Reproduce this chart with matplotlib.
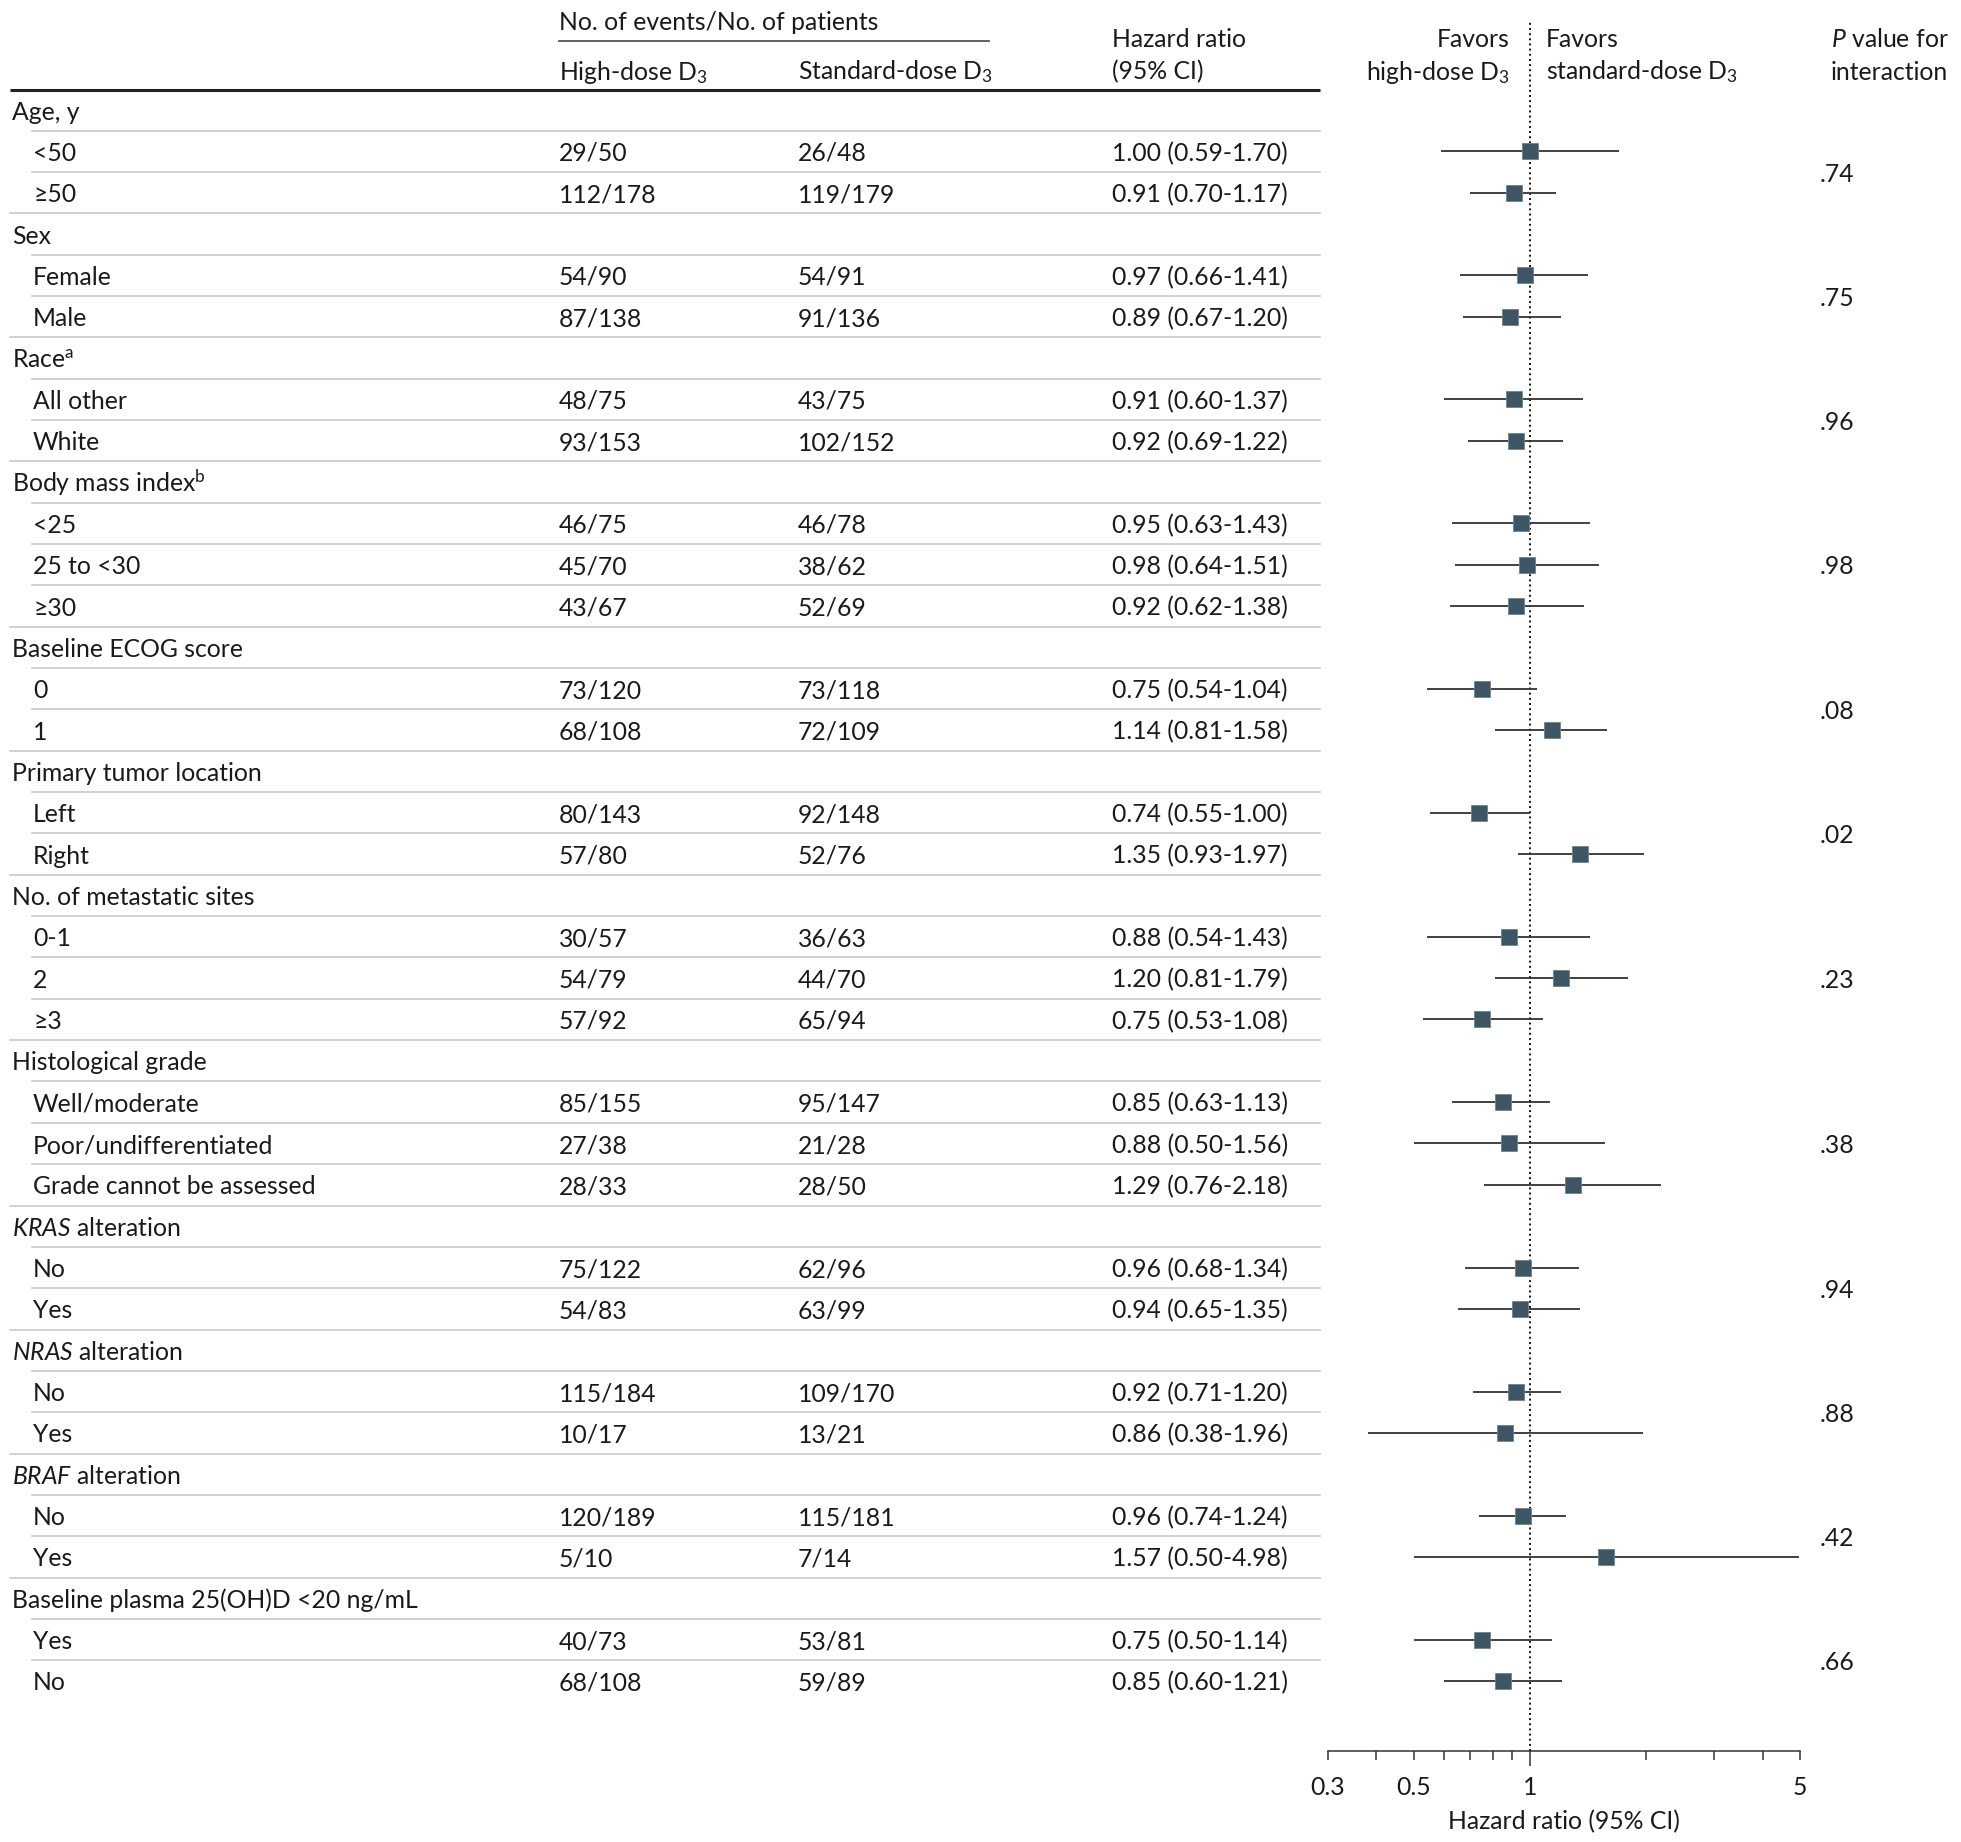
import numpy as np
import matplotlib.pyplot as plt
from matplotlib.ticker import FixedLocator, FixedFormatter

plt.rcParams['font.family'] = ['Lato', 'DejaVu Sans']
plt.rcParams['mathtext.fontset'] = 'custom'
plt.rcParams['mathtext.rm'] = 'Lato'
plt.rcParams['mathtext.it'] = 'Lato:italic'
plt.rcParams['mathtext.bf'] = 'Lato:bold'

# data
groups = ["Age, y", "Sex", "Race$^{\\mathrm{a}}$", "Body mass index$^{\\mathrm{b}}$",
          "Baseline ECOG score", "Primary tumor location", "No. of metastatic sites",
          "Histological grade", "$\\mathit{KRAS}$ alteration", "$\\mathit{NRAS}$ alteration",
          "$\\mathit{BRAF}$ alteration", "Baseline plasma 25(OH)D <20 ng/mL"]
subgroups = [["<50", "≥50"], ["Female", "Male"], ["All other", "White"],
             ["<25", "25 to <30", "≥30"], ["0", "1"], ["Left", "Right"],
             ["0-1", "2", "≥3"],
             ["Well/moderate", "Poor/undifferentiated", "Grade cannot be assessed"],
             ["No", "Yes"], ["No", "Yes"], ["No", "Yes"], ["Yes", "No"]]
high_dose = ["29/50", "112/178", "54/90", "87/138", "48/75", "93/153",
             "46/75", "45/70", "43/67", "73/120", "68/108", "80/143", "57/80",
             "30/57", "54/79", "57/92", "85/155", "27/38", "28/33",
             "75/122", "54/83", "115/184", "10/17", "120/189", "5/10",
             "40/73", "68/108"]
standard_dose = ["26/48", "119/179", "54/91", "91/136", "43/75", "102/152",
                 "46/78", "38/62", "52/69", "73/118", "72/109", "92/148", "52/76",
                 "36/63", "44/70", "65/94", "95/147", "21/28", "28/50",
                 "62/96", "63/99", "109/170", "13/21", "115/181", "7/14",
                 "53/81", "59/89"]
hr = [1.00, 0.91, 0.97, 0.89, 0.91, 0.92, 0.95, 0.98, 0.92, 0.75, 1.14, 0.74, 1.35,
      0.88, 1.20, 0.75, 0.85, 0.88, 1.29, 0.96, 0.94, 0.92, 0.86, 0.96, 1.57,
      0.75, 0.85]
ci_low = [0.59, 0.70, 0.66, 0.67, 0.60, 0.69, 0.63, 0.64, 0.62, 0.54, 0.81, 0.55, 0.93,
          0.54, 0.81, 0.53, 0.63, 0.50, 0.76, 0.68, 0.65, 0.71, 0.38, 0.74, 0.50,
          0.50, 0.60]
ci_high = [1.70, 1.17, 1.41, 1.20, 1.37, 1.22, 1.43, 1.51, 1.38, 1.04, 1.58, 1.00, 1.97,
           1.43, 1.79, 1.08, 1.13, 1.56, 2.18, 1.34, 1.35, 1.20, 1.96, 1.24, 4.98,
           1.14, 1.21]
p_interaction = [".74", ".75", ".96", ".98", ".08", ".02", ".23", ".38",
                 ".94", ".88", ".42", ".66"]

W, H = 1961, 1842
fig = plt.figure(figsize=(W / 100, H / 100), dpi=100)
ax = fig.add_axes([0, 0, 1, 1])
ax.set_xlim(0, W)
ax.set_ylim(H, 0)
ax.axis('off')

txt = '#1a1a1a'
fs = 17.8
y0, dy = 110, 41.34
base = 9.5
x_head, x_sub = 12, 33
x_hi, x_std, x_hr, x_p = 559, 798, 1112, 1820
line_end = 1320

# column headers
ax.text(x_hi, 30, "No. of events/No. of patients", fontsize=fs, color=txt)
ax.plot([x_hi, 989], [41, 41], color='#555555', lw=1.3)
ax.text(x_hi, 79.5, "High-dose D$_3$", fontsize=fs, color=txt)
ax.text(x_std, 79.5, "Standard-dose D$_3$", fontsize=fs, color=txt)
ax.text(x_hr, 47, "Hazard ratio", fontsize=fs, color=txt)
ax.text(x_hr, 79.5, "(95% CI)", fontsize=fs, color=txt)
ax.text(1510, 47, "Favors", fontsize=fs, color=txt, ha='right')
ax.text(1510, 79.5, "high-dose D$_3$", fontsize=fs, color=txt, ha='right')
ax.text(1546, 47, "Favors", fontsize=fs, color=txt)
ax.text(1546, 79.5, "standard-dose D$_3$", fontsize=fs, color=txt)
ax.text(1831, 47, "$\\mathit{P}$ value for", fontsize=fs, color=txt)
ax.text(1831, 79.5, "interaction", fontsize=fs, color=txt)
ax.plot([10, line_end], [90, 90], color='#222222', lw=2.2, solid_capstyle='butt')

fax = fig.add_axes([1328 / W, (H - 1751) / H, 472 / W, (1751 - 22) / H])
fax.set_xscale('log')
fax.set_xlim(0.3, 5)
fax.set_ylim(1751, 22)
fax.patch.set_alpha(0)
for s in ['top', 'left', 'right']:
    fax.spines[s].set_visible(False)
fax.spines['bottom'].set_color('#333333')
fax.spines['bottom'].set_linewidth(1.1)
fax.set_yticks([])

row = 0
k = 0
ys, n_rows = [], sum(len(s) + 1 for s in subgroups)
for g, name in enumerate(groups):
    y = y0 + row * dy
    ax.text(x_head, y + base, name, fontsize=fs, color=txt)
    ax.plot([x_sub - 1, line_end], [y + dy / 2] * 2, color='#c8c8c8', lw=1.2)
    row += 1
    first = row
    for j, lab in enumerate(subgroups[g]):
        y = y0 + row * dy
        ax.text(x_sub, y + base, lab, fontsize=fs, color=txt)
        ax.text(x_hi, y + base, high_dose[k], fontsize=fs, color=txt)
        ax.text(x_std, y + base, standard_dose[k], fontsize=fs, color=txt)
        ax.text(x_hr, y + base,
                f"{hr[k]:.2f} ({ci_low[k]:.2f}-{ci_high[k]:.2f})", fontsize=fs, color=txt)
        if row < n_rows - 1:
            last = j == len(subgroups[g]) - 1
            ax.plot([10 if last else x_sub - 1, line_end], [y + dy / 2] * 2,
                    color='#c8c8c8', lw=1.2)
        ys.append(y)
        row += 1
        k += 1
    ymid = y0 + (first + row - 1) / 2 * dy
    ax.text(x_p, ymid + base, p_interaction[g], fontsize=fs, color=txt)

ys = np.array(ys)
fax.axvline(1, color='#111111', ls=':', lw=1.4)
fax.hlines(ys, ci_low, ci_high, color='#333333', lw=1.3)
fax.plot(hr, ys, 's', ms=12.2, color='#3e5563', mec='#6f8190', mew=0.6, zorder=3)

fax.xaxis.set_major_locator(FixedLocator([1]))
fax.xaxis.set_major_formatter(FixedFormatter(["1"]))
minor = [0.3, 0.4, 0.5, 0.6, 0.7, 0.8, 0.9, 2, 3, 4, 5]
fax.xaxis.set_minor_locator(FixedLocator(minor))
fax.xaxis.set_minor_formatter(FixedFormatter(
    ["0.3", "", "0.5", "", "", "", "", "", "", "", "5"]))
fax.tick_params(axis='x', which='major', length=10.8, width=1.1, pad=7,
                labelsize=fs, labelcolor=txt, color='#333333')
fax.tick_params(axis='x', which='minor', length=6.5, width=1.1, pad=11.3,
                labelsize=fs, labelcolor=txt, color='#333333')
ax.text(1564, 1829, "Hazard ratio (95% CI)", fontsize=fs, color=txt, ha='center')

fig.savefig("out.png", dpi=100)
